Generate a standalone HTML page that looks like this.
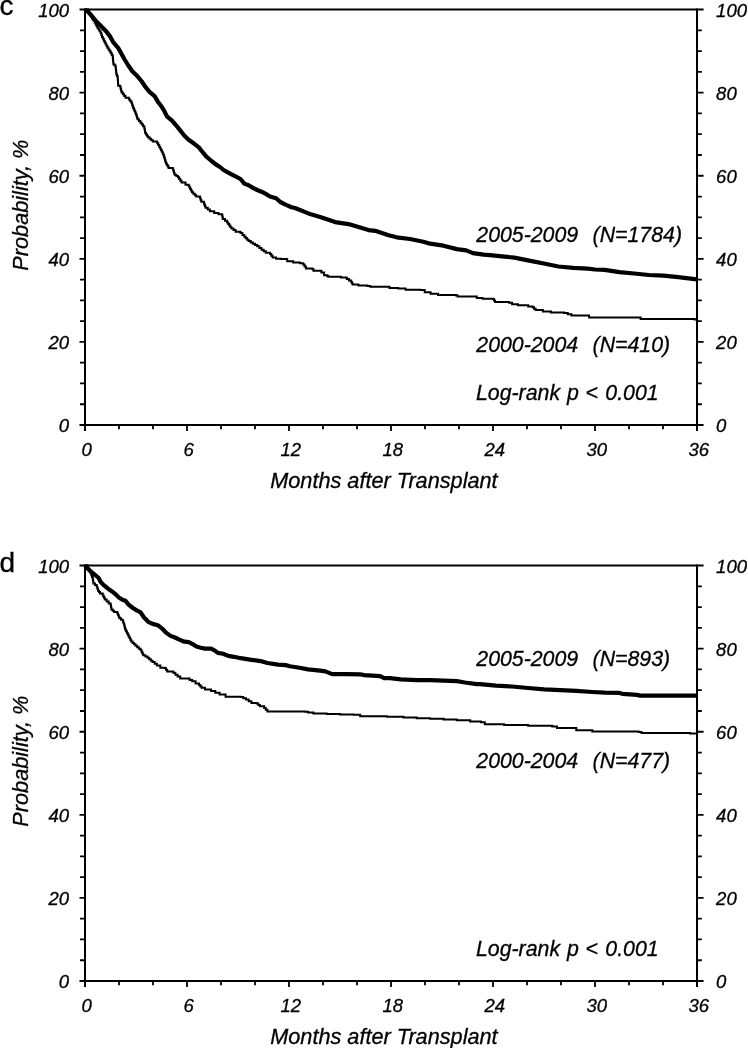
<!DOCTYPE html>
<html><head><meta charset="utf-8"><title>Kaplan-Meier curves</title>
<style>html,body{margin:0;padding:0;background:#fff;}body{width:748px;height:1048px;overflow:hidden;font-family:"Liberation Sans",sans-serif;}svg{display:block;will-change:transform;}</style>
</head><body>
<svg width="748" height="1048" viewBox="0 0 748 1048" font-family="'Liberation Sans', sans-serif" fill="#000">
<style>text{stroke:#000;stroke-width:0.3px;}</style>
<path d="M85 8.6V431M697 8.6V431" stroke="#000" stroke-width="2.0" fill="none"/>
<path d="M79.5 9.6H703.6M79.5 425H703.6" stroke="#000" stroke-width="2.0" fill="none"/>
<path d="M80 404.23H85M697 404.23H701.8M80 383.46H85M697 383.46H701.8M80 362.69H85M697 362.69H701.8M79.5 341.92H85M697 341.92H703.6M80 321.15H85M697 321.15H701.8M80 300.38H85M697 300.38H701.8M80 279.61H85M697 279.61H701.8M79.5 258.84H85M697 258.84H703.6M80 238.07H85M697 238.07H701.8M80 217.3H85M697 217.3H701.8M80 196.53H85M697 196.53H701.8M79.5 175.76H85M697 175.76H703.6M80 154.99H85M697 154.99H701.8M80 134.22H85M697 134.22H701.8M80 113.45H85M697 113.45H701.8M79.5 92.68H85M697 92.68H703.6M80 71.91H85M697 71.91H701.8M80 51.14H85M697 51.14H701.8M80 30.37H85M697 30.37H701.8M119 425V429.3M153 425V429.3M187 425V431M221 425V429.3M255 425V429.3M289 425V431M323 425V429.3M357 425V429.3M391 425V431M425 425V429.3M459 425V429.3M493 425V431M527 425V429.3M561 425V429.3M595 425V431M629 425V429.3M663 425V429.3" stroke="#000" stroke-width="1.8" fill="none"/>
<g font-size="18.5" font-style="italic"><text x="69" y="432.1" text-anchor="end">0</text><text x="716.1" y="432.1">0</text><text x="69" y="349.02" text-anchor="end">20</text><text x="716.1" y="349.02">20</text><text x="69" y="265.94" text-anchor="end">40</text><text x="716.1" y="265.94">40</text><text x="69" y="182.86" text-anchor="end">60</text><text x="716.1" y="182.86">60</text><text x="69" y="99.78" text-anchor="end">80</text><text x="716.1" y="99.78">80</text><text x="69" y="16.7" text-anchor="end">100</text><text x="716.1" y="16.7">100</text><text x="86.7" y="455.5" text-anchor="middle">0</text><text x="188.7" y="455.5" text-anchor="middle">6</text><text x="290.7" y="455.5" text-anchor="middle">12</text><text x="392.7" y="455.5" text-anchor="middle">18</text><text x="494.7" y="455.5" text-anchor="middle">24</text><text x="596.7" y="455.5" text-anchor="middle">30</text><text x="698.7" y="455.5" text-anchor="middle">36</text></g>
<polyline points="85,9.6 88,9.6 88,11.7 89,11.7 89,13.38 90,13.38 90,15.05 91,15.05 91,16.72 92,16.72 92,18.4 93.35,18.4 93.35,20.4 94.7,20.4 94.7,22.4 95.6,22.4 95.6,24.17 96.5,24.17 96.5,25.93 97.4,25.93 97.4,27.7 98.5,27.7 98.5,29.5 99.6,29.5 99.6,31.3 100.7,31.3 100.7,33.1 101.35,33.1 101.35,35.1 102,35.1 102,37.1 102.9,37.1 102.9,38.87 103.8,38.87 103.8,40.63 104.7,40.63 104.7,42.4 105.6,42.4 105.6,44.2 106.5,44.2 106.5,46 107.4,46 107.4,47.8 108.5,47.8 108.5,49.57 109.6,49.57 109.6,51.33 110.7,51.33 110.7,53.1 111.7,53.1 111.7,55.1 112.7,55.1 112.7,57.1 112.88,57.1 112.88,58.9 113.05,58.9 113.05,60.7 113.23,60.7 113.23,62.5 113.4,62.5 113.4,64.3 114.5,64.3 114.5,65.6 115.6,65.6 115.6,66.9 115.76,66.9 115.76,68.44 115.92,68.44 115.92,69.98 116.08,69.98 116.08,71.52 116.24,71.52 116.24,73.06 116.4,73.06 116.4,74.6 117.05,74.6 117.05,76.3 117.7,76.3 117.7,78 117.8,78 117.8,79.56 117.9,79.56 117.9,81.12 118,81.12 118,82.68 118.1,82.68 118.1,84.24 118.2,84.24 118.2,85.8 120.3,85.8 120.3,87.5 120.73,87.5 120.73,89.2 121.17,89.2 121.17,90.9 121.6,90.9 121.6,92.6 122.9,92.6 122.9,94.33 124.2,94.33 124.2,96.07 125.5,96.07 125.5,97.8 128.9,97.8 128.9,99.5 130.2,99.5 130.2,101.2 131.5,101.2 131.5,102.9 132.07,102.9 132.07,104.63 132.63,104.63 132.63,106.37 133.2,106.37 133.2,108.1 133.85,108.1 133.85,109.6 134.5,109.6 134.5,111.1 135.15,111.1 135.15,112.6 135.8,112.6 135.8,114.1 136.37,114.1 136.37,115.83 136.93,115.83 136.93,117.57 137.5,117.57 137.5,119.3 138.93,119.3 138.93,121 140.37,121 140.37,122.7 141.8,122.7 141.8,124.4 143.05,124.4 143.05,126.15 144.3,126.15 144.3,127.9 144.6,127.9 144.6,129.6 144.9,129.6 144.9,131.3 145.2,131.3 145.2,133 146.07,133 146.07,134.43 146.93,134.43 146.93,135.87 147.8,135.87 147.8,137.3 149.5,137.3 149.5,138.73 151.2,138.73 151.2,140.17 152.9,140.17 152.9,141.6 157.2,141.6 157.2,143.3 158.23,143.3 158.23,145.1 159.27,145.1 159.27,146.9 160.3,146.9 160.3,148.7 161.08,148.7 161.08,150.27 161.85,150.27 161.85,151.85 162.62,151.85 162.62,153.43 163.4,153.43 163.4,155 163.92,155 163.92,156.72 164.44,156.72 164.44,158.44 164.96,158.44 164.96,160.16 165.48,160.16 165.48,161.88 166,161.88 166,163.6 166.87,163.6 166.87,165.03 167.73,165.03 167.73,166.47 168.6,166.47 168.6,167.9 172.9,167.9 172.9,169.6 173.47,169.6 173.47,171.3 174.03,171.3 174.03,173 174.6,173 174.6,174.7 176.3,174.7 176.3,176 178,176 178,177.3 179.17,177.3 179.17,179.03 180.33,179.03 180.33,180.77 181.5,180.77 181.5,182.5 185.5,182.5 185.5,184.8 188.4,184.8 188.4,185.5 189.28,185.5 189.28,187.2 190.15,187.2 190.15,188.9 191.03,188.9 191.03,190.6 191.9,190.6 191.9,192.3 193.33,192.3 193.33,193.73 194.77,193.73 194.77,195.17 196.2,195.17 196.2,196.6 200,196.6 200,198.3 200.65,198.3 200.65,200.05 201.3,200.05 201.3,201.8 203.9,201.8 203.9,203.5 204.47,203.5 204.47,204.93 205.03,204.93 205.03,206.37 205.6,206.37 205.6,207.8 207.75,207.8 207.75,209.5 209.9,209.5 209.9,211.2 214.2,211.2 214.2,212.9 218.5,212.9 218.5,214.2 221.9,214.2 221.9,214.2 222.2,214.2 222.2,215.77 222.5,215.77 222.5,217.33 222.8,217.33 222.8,218.9 224.95,218.9 224.95,220.65 227.1,220.65 227.1,222.4 228.18,222.4 228.18,223.9 229.25,223.9 229.25,225.4 230.32,225.4 230.32,226.9 231.4,226.9 231.4,228.4 233.5,228.4 233.5,230.1 235.6,230.1 235.6,231.8 240.5,231.8 240.5,233 242.4,233 242.4,234.9 244.3,234.9 244.3,236.8 245.73,236.8 245.73,238.23 247.17,238.23 247.17,239.67 248.6,239.67 248.6,241.1 250.75,241.1 250.75,242.4 252.9,242.4 252.9,243.7 255.05,243.7 255.05,244.95 257.2,244.95 257.2,246.2 259.35,246.2 259.35,247.95 261.5,247.95 261.5,249.7 263.65,249.7 263.65,251.2 265.8,251.2 265.8,252.7 270,252.7 270,254 271.3,254 271.3,255.7 272.6,255.7 272.6,257.4 276.1,257.4 276.1,258.7 281.2,258.7 281.2,259.1 287.2,259.1 287.2,261.3 293.2,261.3 293.2,262.6 300,262.6 300,263.2 303.2,263.2 303.2,264.6 304.55,264.6 304.55,266.6 305.9,266.6 305.9,268.6 312.3,268.6 312.3,268.9 313.4,268.9 313.4,270.8 317.6,270.8 317.6,270.8 321.4,270.8 321.4,272.6 324.1,272.6 324.1,272.9 324.1,272.9 324.1,274.1 324.1,274.1 324.1,275.3 327.3,275.3 327.3,275.9 328.3,275.9 328.3,276.7 335,276.7 335,276.7 340.9,276.7 340.9,277.5 346.8,277.5 346.8,279 349,279 349,280.45 351.2,280.45 351.2,281.9 351.9,281.9 351.9,283.15 352.6,283.15 352.6,284.4 358.5,284.4 358.5,285.6 367.4,285.6 367.4,285.9 370.3,285.9 370.3,286.8 386.5,286.8 386.5,286.8 389.4,286.8 389.4,288.1 398.2,288.1 398.2,288.5 405.6,288.5 405.6,289.7 420.3,289.7 420.3,290 424.7,290 424.7,292.2 430.6,292.2 430.6,293.7 438,293.7 438,295.1 456.2,295.1 456.2,295.4 457.6,295.4 457.6,296.5 473.8,296.5 473.8,296.5 476.8,296.5 476.8,297.9 482.6,297.9 482.6,298.7 492.9,298.7 492.9,299.1 494,299.1 494,300.6 495.1,300.6 495.1,302.1 509.1,302.1 509.1,302.8 512.1,302.8 512.1,304.3 517.9,304.3 517.9,305.3 528.2,305.3 528.2,306.5 532.6,306.5 532.6,307.2 534.1,307.2 534.1,308.65 535.6,308.65 535.6,310.1 542.9,310.1 542.9,311.6 550.9,311.6 550.9,312.5 564.1,312.5 564.1,312.9 567.8,312.9 567.8,314.15 571.5,314.15 571.5,315.4 586.2,315.4 586.2,315.4 589.1,315.4 589.1,317.4 639.1,317.4 639.1,317.6 640.6,317.6 640.6,319.1 676.4,319.1 676.4,319.1 694.5,319.1 694.5,319.5 696.8,319.5 696.8,320.5" stroke="#000" stroke-width="2.0" fill="none" stroke-linejoin="miter" stroke-miterlimit="4"/>
<polyline points="85,9.6 88,11.7 92.7,17 95.4,20.4 100,25 105.4,30.4 110.1,36.4 113.4,42.4 118.1,47.8 121.4,53.8 124.6,59.5 128,65 132.3,71.2 137.5,76.3 141.8,81.5 145.2,86.6 149.5,91.8 154.6,96.1 158.1,102.1 160,104.3 163.4,109.4 166.9,116.3 172,120.6 177.2,126.6 180.6,130.9 184,135.2 188.3,139.5 194.3,143.8 198.6,147.2 202.1,151.5 206.4,156.7 211.5,161 215.8,164.4 220,167 223.6,170 229.6,173.4 236.5,176.9 240.5,179 244.3,183.6 248.6,185.3 252.9,187.9 257.2,190 261.5,191.7 265.8,193.9 270,196.5 276.1,198.2 280.3,202 285.5,204.6 291.5,207.2 295,208 308.4,213.4 321.7,217.4 335.1,222.1 348.5,224.1 361.8,228.1 368.5,230.1 375.2,230.8 388.6,235.2 396.7,237.3 410,239 423.4,241.7 430.1,243.7 443.5,245.7 456.8,249.1 466.2,250.4 472.9,253.1 483.6,254.7 490,255.1 499.7,256.2 514.4,257.6 529.1,260.6 543.8,263.5 558.5,266.5 573.2,267.9 587.9,268.7 595,269.5 604.7,269.9 619.4,272.1 634.1,273.5 648.8,275 663.5,275.7 678.2,277.2 696.8,279.4" stroke="#000" stroke-width="4.2" fill="none" stroke-linejoin="round"/>
<text x="476.3" y="241.7" font-size="21.3" font-style="italic" xml:space="preserve">2005-2009</text>
<text x="592.6" y="241.7" font-size="21.3" font-style="italic" xml:space="preserve">(N=1784)</text>
<text x="476.3" y="352" font-size="21.3" font-style="italic" xml:space="preserve">2000-2004</text>
<text x="592.6" y="352" font-size="21.3" font-style="italic" xml:space="preserve">(N=410)</text>
<text x="476" y="400" font-size="21.3" font-style="italic" xml:space="preserve">Log-rank</text>
<text x="567.1" y="400" font-size="21.3" font-style="italic" xml:space="preserve">p</text>
<text x="585.4" y="400" font-size="21.3" font-style="italic" xml:space="preserve">&lt;</text>
<text x="605.3" y="400" font-size="21.3" font-style="italic" xml:space="preserve">0.001</text>
<text x="383.9" y="487.5" font-size="21.7" font-style="italic" text-anchor="middle">Months after Transplant</text>
<text transform="translate(27.9 205.2) rotate(-90)" font-size="21.7" font-style="italic" text-anchor="middle">Probability, %</text>
<text x="-0.4" y="15.2" font-size="28">c</text>
<path d="M85 564.6V987M697 564.6V987" stroke="#000" stroke-width="2.0" fill="none"/>
<path d="M79.5 565.6H703.6M79.5 981H703.6" stroke="#000" stroke-width="2.0" fill="none"/>
<path d="M80 960.23H85M697 960.23H701.8M80 939.46H85M697 939.46H701.8M80 918.69H85M697 918.69H701.8M79.5 897.92H85M697 897.92H703.6M80 877.15H85M697 877.15H701.8M80 856.38H85M697 856.38H701.8M80 835.61H85M697 835.61H701.8M79.5 814.84H85M697 814.84H703.6M80 794.07H85M697 794.07H701.8M80 773.3H85M697 773.3H701.8M80 752.53H85M697 752.53H701.8M79.5 731.76H85M697 731.76H703.6M80 710.99H85M697 710.99H701.8M80 690.22H85M697 690.22H701.8M80 669.45H85M697 669.45H701.8M79.5 648.68H85M697 648.68H703.6M80 627.91H85M697 627.91H701.8M80 607.14H85M697 607.14H701.8M80 586.37H85M697 586.37H701.8M119 981V985.3M153 981V985.3M187 981V987M221 981V985.3M255 981V985.3M289 981V987M323 981V985.3M357 981V985.3M391 981V987M425 981V985.3M459 981V985.3M493 981V987M527 981V985.3M561 981V985.3M595 981V987M629 981V985.3M663 981V985.3" stroke="#000" stroke-width="1.8" fill="none"/>
<g font-size="18.5" font-style="italic"><text x="69" y="988.1" text-anchor="end">0</text><text x="716.1" y="988.1">0</text><text x="69" y="905.02" text-anchor="end">20</text><text x="716.1" y="905.02">20</text><text x="69" y="821.94" text-anchor="end">40</text><text x="716.1" y="821.94">40</text><text x="69" y="738.86" text-anchor="end">60</text><text x="716.1" y="738.86">60</text><text x="69" y="655.78" text-anchor="end">80</text><text x="716.1" y="655.78">80</text><text x="69" y="572.7" text-anchor="end">100</text><text x="716.1" y="572.7">100</text><text x="86.7" y="1011.5" text-anchor="middle">0</text><text x="188.7" y="1011.5" text-anchor="middle">6</text><text x="290.7" y="1011.5" text-anchor="middle">12</text><text x="392.7" y="1011.5" text-anchor="middle">18</text><text x="494.7" y="1011.5" text-anchor="middle">24</text><text x="596.7" y="1011.5" text-anchor="middle">30</text><text x="698.7" y="1011.5" text-anchor="middle">36</text></g>
<polyline points="85,565.6 88,565.6 88,568 88.9,568 88.9,569.8 89.8,569.8 89.8,571.6 90.7,571.6 90.7,573.4 91.37,573.4 91.37,575.17 92.03,575.17 92.03,576.93 92.7,576.93 92.7,578.7 92.93,578.7 92.93,580.27 93.17,580.27 93.17,581.83 93.4,581.83 93.4,583.4 95.05,583.4 95.05,585.05 96.7,585.05 96.7,586.7 97.35,586.7 97.35,588.7 98,588.7 98,590.7 99,590.7 99,592.05 100,592.05 100,593.4 102.7,593.4 102.7,595.4 103.7,595.4 103.7,597.4 104.7,597.4 104.7,599.4 106.7,599.4 106.7,601.4 108.7,601.4 108.7,603.4 110.7,603.4 110.7,605.5 111.05,605.5 111.05,607.5 111.4,607.5 111.4,609.5 112.75,609.5 112.75,610.8 114.1,610.8 114.1,612.1 117.4,612.1 117.4,613.5 118.07,613.5 118.07,615.07 118.73,615.07 118.73,616.63 119.4,616.63 119.4,618.2 121.1,618.2 121.1,619.85 122.8,619.85 122.8,621.5 123.45,621.5 123.45,623.15 124.1,623.15 124.1,624.8 124.47,624.8 124.47,626.37 124.83,626.37 124.83,627.93 125.2,627.93 125.2,629.5 126.05,629.5 126.05,631.23 126.9,631.23 126.9,632.95 127.75,632.95 127.75,634.67 128.6,634.67 128.6,636.4 129.47,636.4 129.47,638.1 130.33,638.1 130.33,639.8 131.2,639.8 131.2,641.5 132.63,641.5 132.63,642.93 134.07,642.93 134.07,644.37 135.5,644.37 135.5,645.8 137.2,645.8 137.2,647.23 138.9,647.23 138.9,648.67 140.6,648.67 140.6,650.1 141.47,650.1 141.47,651.8 142.33,651.8 142.33,653.5 143.2,653.5 143.2,655.2 145.35,655.2 145.35,656.5 147.5,656.5 147.5,657.8 149.2,657.8 149.2,659.23 150.9,659.23 150.9,660.67 152.6,660.67 152.6,662.1 154.75,662.1 154.75,663.8 156.9,663.8 156.9,665.5 160.3,665.5 160.3,667.7 164.6,667.7 164.6,668.1 165.9,668.1 165.9,669.8 167.2,669.8 167.2,671.5 173.2,671.5 173.2,672.8 175.4,672.8 175.4,674.65 177.6,674.65 177.6,676.5 180.2,676.5 180.2,678.6 187,678.6 187,678.6 189.6,678.6 189.6,679.9 192.2,679.9 192.2,681.2 195.6,681.2 195.6,683.4 199,683.4 199,685.1 200.3,685.1 200.3,686.4 201.6,686.4 201.6,687.7 205,687.7 205,689.4 211.1,689.4 211.1,691.1 215.3,691.1 215.3,692.8 219.6,692.8 219.6,694.5 223.9,694.5 223.9,694.5 225.6,694.5 225.6,696.7 240.7,696.7 240.7,696.9 243.35,696.9 243.35,698.15 246,698.15 246,699.4 248.7,699.4 248.7,701.25 251.4,701.25 251.4,703.1 256.7,703.1 256.7,703.6 258.3,703.6 258.3,704.95 259.9,704.95 259.9,706.3 264.2,706.3 264.2,707.9 265.8,707.9 265.8,709.75 267.4,709.75 267.4,711.6 304.9,711.6 304.9,711.7 308,711.7 308,712.6 313.4,712.6 313.4,713.5 326.7,713.5 326.7,713.9 340.1,713.9 340.1,714.4 353.5,714.4 353.5,714.8 360.2,714.8 360.2,716.2 373.5,716.2 373.5,716.2 386.9,716.2 386.9,716.8 403.4,716.8 403.4,717.5 416.7,717.5 416.7,718.2 430.1,718.2 430.1,718.8 443.5,718.8 443.5,719.5 456.8,719.5 456.8,720.2 470.2,720.2 470.2,721.5 480.9,721.5 480.9,722.2 484.8,722.2 484.8,724.3 504.1,724.3 504.1,724.9 528.1,724.9 528.1,725.8 552.2,725.8 552.2,726.5 557,726.5 557,728.1 576.3,728.1 576.3,730.2 592.3,730.2 592.3,731.4 595.9,731.4 595.9,731.6 638.5,731.6 638.5,732.1 641.5,732.1 641.5,733.1 690,733.1 690,733.5 696.8,733.5 696.8,733.8" stroke="#000" stroke-width="2.0" fill="none" stroke-linejoin="miter" stroke-miterlimit="4"/>
<polyline points="85,565.6 86.7,567.4 90.7,571.4 94.7,574.7 98.7,578 100.7,582.1 104.1,585.4 108.1,588.7 112.1,591.4 115.4,594.1 118.8,597.4 122.5,599.8 125.5,600.8 128.6,604.6 132.9,608 137.2,610.6 140.6,612.3 144,617.5 148.3,621.8 152.6,623.9 157.8,625.2 162.1,628.6 166.4,632.9 170.6,635.9 175,637.5 179.3,639.6 184.4,641.7 188.7,642.2 192.2,643.9 196.5,646.5 200.8,647.7 205,648.6 211.1,648.6 214.5,650.3 217.9,652.9 223.1,653.8 228.2,655.9 234,656.8 240.7,658.2 251.4,659.8 262.1,661.4 267.4,663 278.1,664.6 285.6,665.1 289.9,666.2 299.5,667.8 308,669.4 320.1,670.7 325.4,671.4 332.1,674.1 346.8,674.1 360.2,674.3 364.2,675.1 380.2,676.1 384.2,678.1 390,678.1 400.7,679.4 416.7,680.1 430.1,680.1 443.5,680.7 456.8,681.1 464.9,682.5 476.9,684.1 480,684.1 496,685.7 512.1,686.5 528.1,688 544.2,689.3 560.2,690.1 576.3,690.9 592.3,692 604.7,692.6 619.4,692.9 622.4,693.8 637.1,694.9 640,695.6 696.8,695.6" stroke="#000" stroke-width="4.2" fill="none" stroke-linejoin="round"/>
<text x="476.3" y="666.1" font-size="21.3" font-style="italic" xml:space="preserve">2005-2009</text>
<text x="592.6" y="666.1" font-size="21.3" font-style="italic" xml:space="preserve">(N=893)</text>
<text x="476.3" y="767.9" font-size="21.3" font-style="italic" xml:space="preserve">2000-2004</text>
<text x="592.6" y="767.9" font-size="21.3" font-style="italic" xml:space="preserve">(N=477)</text>
<text x="476" y="955.8" font-size="21.3" font-style="italic" xml:space="preserve">Log-rank</text>
<text x="567.1" y="955.8" font-size="21.3" font-style="italic" xml:space="preserve">p</text>
<text x="585.4" y="955.8" font-size="21.3" font-style="italic" xml:space="preserve">&lt;</text>
<text x="605.3" y="955.8" font-size="21.3" font-style="italic" xml:space="preserve">0.001</text>
<text x="383.9" y="1043.5" font-size="21.7" font-style="italic" text-anchor="middle">Months after Transplant</text>
<text transform="translate(27.9 761.2) rotate(-90)" font-size="21.7" font-style="italic" text-anchor="middle">Probability, %</text>
<text x="-0.5" y="571.5" font-size="28">d</text>
</svg>
</body></html>
